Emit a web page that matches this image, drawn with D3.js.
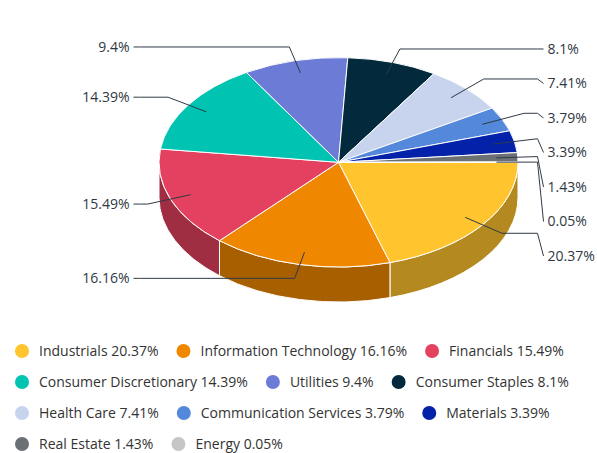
<!DOCTYPE html>
<html>
<head>
<meta charset="utf-8">
<script src="https://cdn.jsdelivr.net/npm/d3@7"></script>
<style>
  body { margin: 0; background: #fff; }
  text { font-family: "Open Sans", "Noto Sans", sans-serif; }
</style>
</head>
<body>
<svg id="chart" width="597" height="453"></svg>
<script>
// Sector weights of the portfolio (%)
const sectors = [
  "Industrials", "Information Technology", "Financials", "Consumer Discretionary",
  "Utilities", "Consumer Staples", "Health Care", "Communication Services",
  "Materials", "Real Estate", "Energy"
];
const weights = [20.37, 16.16, 15.49, 14.39, 9.4, 8.1, 7.41, 3.79, 3.39, 1.43, 0.05];

// Slice palette, one colour per sector
const palette = [
  "#FFC42E", "#EF8700", "#E3415F", "#00C3B2", "#6C7BD5", "#02293C",
  "#C8D3EE", "#5488DA", "#0322A9", "#6B7075", "#C6C6C6"
];

const data = sectors.map((name, i) => ({ name, value: weights[i] }));
const colour = d3.scaleOrdinal(sectors, palette);

const svg = d3.select("#chart");

// Tilted pie: elliptical top face plus a visible front wall
const cx = 338.5, cy = 162.3, rx = 179.5, ry = 104.7, depth = 35;
const pt = (t, f = 1, dy = 0) => [cx + f * rx * Math.cos(t), cy + f * ry * Math.sin(t) + dy];

// angle 0 = 3 o'clock, increasing clockwise on screen
const arcs = d3.pie().sort(null).value(d => d.value)
  .startAngle(0).endAngle(2 * Math.PI)(data);

const gSide = svg.append("g");
const gTop = svg.append("g");

// front walls (only the half facing the viewer, 0..PI)
arcs.forEach(a => {
  const s = Math.max(a.startAngle, 0), e = Math.min(a.endAngle, Math.PI);
  if (e <= s) return;
  const p = d3.path();
  const [x0, y0] = pt(s), [x1, y1] = pt(e);
  p.moveTo(x0, y0);
  p._ += `A${rx},${ry},0,0,1,${x1},${y1}`;
  p.lineTo(x1, y1 + depth);
  p._ += `A${rx},${ry},0,0,0,${x0},${y0 + depth}`;
  p.closePath();
  gSide.append("path")
    .attr("d", p.toString())
    .attr("fill", d3.color(colour(a.data.name)).darker(1))
    .attr("stroke", "#fff").attr("stroke-width", 1)
    .attr("stroke-linejoin", "round");
});

// top faces
arcs.forEach(a => {
  const [x0, y0] = pt(a.startAngle), [x1, y1] = pt(a.endAngle);
  const large = (a.endAngle - a.startAngle) > Math.PI ? 1 : 0;
  gTop.append("path")
    .attr("d", `M${cx},${cy}L${x0},${y0}A${rx},${ry},0,${large},1,${x1},${y1}Z`)
    .attr("fill", colour(a.data.name))
    .attr("stroke", "#fff").attr("stroke-width", 1)
    .attr("stroke-linejoin", "round");
});

// data labels with crooked connectors
const K = 1.135, anchorF = 0.88, labelGap = 29.5, minSpacing = 34.5;
const labels = arcs.map(a => {
  const mid = (a.startAngle + a.endAngle) / 2;
  const right = Math.cos(mid) >= 0;
  const [bx, natY] = pt(mid, K);
  return { a, mid, right, bx, natY, y: natY, anchor: pt(mid, anchorF) };
});

[true, false].forEach(side => {
  const group = labels.filter(l => l.right === side).sort((p, q) => p.natY - q.natY);
  let prev = -Infinity;
  group.forEach(l => { l.y = Math.max(l.natY, prev + minSpacing); prev = l.y; });
});

const gLab = svg.append("g");
labels.forEach(l => {
  const textX = l.right ? cx + rx + labelGap : cx - rx - labelGap;
  const edgeX = l.right ? textX - 4 : textX + 4;
  const crookX = l.right ? textX - 10 : textX + 10;
  const breakX = l.right ? Math.min(l.bx, crookX) : Math.max(l.bx, crookX);
  const line = d3.line();
  gLab.append("path")
    .attr("d", line([[edgeX, l.y], [crookX, l.natY], [breakX, l.natY], l.anchor]))
    .attr("fill", "none").attr("stroke", "#2f3a46").attr("stroke-width", 1);
  gLab.append("text")
    .attr("x", textX).attr("y", l.y)
    .attr("dy", "0.35em")
    .attr("text-anchor", l.right ? "start" : "end")
    .attr("font-size", 14).attr("fill", "#2f3944")
    .text(l.a.data.value + "%");
});

// legend: items flow left to right and wrap
const legend = svg.append("g");
const legendLeft = 15, legendMaxX = 585, rowH = 31, firstRowY = 351;
const symR = 7, symGap = 10, itemGap = 18;
let lx = legendLeft, ly = firstRowY;
data.forEach(d => {
  const item = legend.append("g");
  const txt = item.append("text")
    .attr("font-size", 14).attr("fill", "#333")
    .attr("dy", "0.35em")
    .text(`${d.name} ${d.value}%`);
  const w = 2 * symR + symGap + txt.node().getComputedTextLength();
  if (lx + w > legendMaxX && lx > legendLeft) { lx = legendLeft; ly += rowH; }
  item.attr("transform", `translate(${lx},${ly})`);
  item.insert("circle", "text").attr("cx", symR).attr("cy", 0).attr("r", symR)
    .attr("fill", colour(d.name));
  txt.attr("x", 2 * symR + symGap);
  lx += w + itemGap;
});
</script>
</body>
</html>
